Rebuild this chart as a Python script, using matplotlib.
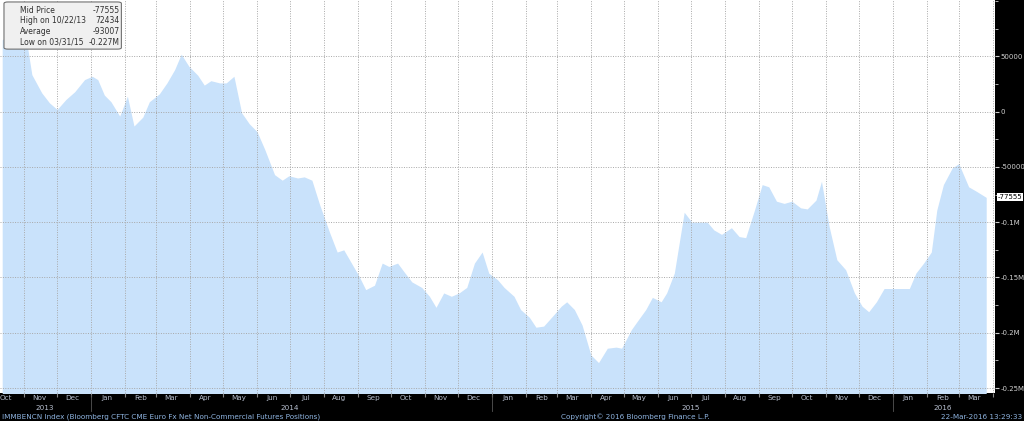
import matplotlib
matplotlib.use("Agg")
import matplotlib.pyplot as plt
import matplotlib.dates as mdates
import pandas as pd
from matplotlib.patches import FancyBboxPatch

dates = ["2013-10-12","2013-10-22","2013-11-03","2013-11-08","2013-11-17","2013-11-24","2013-12-01","2013-12-09",
"2013-12-17","2013-12-26","2014-01-02","2014-01-07","2014-01-13","2014-01-19","2014-01-27","2014-02-03","2014-02-09",
"2014-02-17","2014-02-23","2014-03-04","2014-03-11","2014-03-18","2014-03-24","2014-03-31","2014-04-08","2014-04-14",
"2014-04-20","2014-04-28","2014-05-04","2014-05-11","2014-05-18","2014-05-25","2014-06-01","2014-06-08","2014-06-17",
"2014-06-24","2014-06-30","2014-07-08","2014-07-14","2014-07-21","2014-07-28","2014-08-06","2014-08-13","2014-08-19",
"2014-08-26","2014-09-02","2014-09-08","2014-09-16","2014-09-23","2014-09-29","2014-10-07","2014-10-13","2014-10-20",
"2014-10-29","2014-11-05","2014-11-11","2014-11-18","2014-11-25","2014-12-02","2014-12-09","2014-12-16","2014-12-23",
"2014-12-29","2015-01-06","2015-01-12","2015-01-21","2015-01-27","2015-02-04","2015-02-10","2015-02-17","2015-02-26",
"2015-03-05","2015-03-10","2015-03-17","2015-03-24","2015-04-01","2015-04-08","2015-04-16","2015-04-24","2015-04-29",
"2015-05-08","2015-05-13","2015-05-21","2015-05-27","2015-06-04","2015-06-09","2015-06-16","2015-06-25","2015-07-02",
"2015-07-08","2015-07-16","2015-07-22","2015-07-29","2015-08-07","2015-08-14","2015-08-20","2015-08-28","2015-09-04",
"2015-09-10","2015-09-17","2015-09-24","2015-10-01","2015-10-09","2015-10-15","2015-10-23","2015-10-28","2015-11-04",
"2015-11-11","2015-11-19","2015-11-27","2015-12-04","2015-12-10","2015-12-17","2015-12-24","2015-12-31","2016-01-08",
"2016-01-16","2016-01-22","2016-01-29","2016-02-05","2016-02-10","2016-02-16","2016-02-24","2016-03-01","2016-03-10",
"2016-03-17","2016-03-26"]
values_k = [65,72.4,65,33.5,17,8,2,11,18,29,32,29,15,9,-4,14,-13,-5,9,16,26,38,52,41,33,24,28,26,26,32,-1,-11,-18,-34,-57,
-62,-58,-60,-59,-62,-84,-109,-127,-125,-137,-149,-161,-157,-137,-140,-137,-145,-154,-159,-167,-177,-164,-167,-164,-159,
-137,-127,-146,-152,-159,-167,-179,-186,-195,-194,-184,-176,-172,-179,-193,-220,-227,-214,-213,-214,-197,-190,-179,-168,
-172,-164,-146,-91,-100,-100,-100,-107,-111,-105,-113,-114,-89,-66,-68,-81,-83,-81,-87,-88,-80,-63,-104,-134,-143,-164,
-176,-181,-172,-160,-160,-160,-160,-146,-137,-127,-89,-66,-51,-47,-68,-72,-77.555]
last_value = -77555
yticks = [50000, 0, -50000, -100000, -150000, -200000, -250000]
ytick_labels = ["50000", "0", "-50000", "-0.1M", "-0.15M", "-0.2M", "-0.25M"]

x = pd.to_datetime(dates)
y = [v * 1000 for v in values_k]

fig = plt.figure(figsize=(10.24, 4.21), dpi=100, facecolor="black")
ax = fig.add_axes([0, 28/421, 995/1024, 393/421])
ax.set_facecolor("white")
ax.fill_between(x, y, -260000, color="#c9e2fb", lw=0)
ax.set_ylim(-254500, 101000)
ax.set_xlim(pd.Timestamp("2013-10-10"), pd.Timestamp("2016-04-03"))

ax.yaxis.tick_right()
ax.set_yticks(yticks)
ax.set_yticklabels(ytick_labels)
ax.tick_params(axis="y", colors="#d0d0d0", labelsize=5, length=3, pad=1)
ax.yaxis.set_minor_locator(matplotlib.ticker.MultipleLocator(25000))
ax.tick_params(axis="y", which="minor", length=2, color="#d0d0d0")

ax.xaxis.set_major_locator(mdates.MonthLocator())
ax.xaxis.set_major_formatter(matplotlib.ticker.NullFormatter())
ax.xaxis.set_minor_locator(mdates.MonthLocator(bymonthday=15))
ax.xaxis.set_minor_formatter(mdates.DateFormatter("%b"))
ax.tick_params(axis="x", which="major", length=3, color="#888888")
ax.tick_params(axis="x", which="minor", length=0, labelsize=5.2, colors="#b8c0d0", pad=1.5)
ax.grid(True, which="major", color="#a8a8a8", linestyle=(0, (1, 1.5)), lw=0.7)
for s in ax.spines.values():
    s.set_visible(False)

for yr, d in [("2013", "2013-11-20"), ("2014", "2014-07-01"), ("2015", "2015-07-01"), ("2016", "2016-02-15")]:
    ax.annotate(yr, (mdates.date2num(pd.Timestamp(d)), 0), xycoords=("data", "axes fraction"),
                xytext=(0, -8.5), textcoords="offset points", ha="center", va="top", fontsize=5.2, color="#b8c0d0")
for d in ["2014-01-01", "2015-01-01", "2016-01-01"]:
    xd = mdates.date2num(pd.Timestamp(d))
    ax.plot([xd, xd], [-0.005, -0.045], transform=ax.get_xaxis_transform(), color="#555555", lw=0.6, clip_on=False)

ax.annotate(f"{last_value}", (1.0, last_value), xycoords=("axes fraction", "data"), xytext=(2, 0),
            textcoords="offset points", va="center", ha="left", fontsize=5, color="black",
            bbox=dict(boxstyle="square,pad=0.15", fc="white", ec="none"))

ax.add_patch(FancyBboxPatch((0.004, 0.875), 0.118, 0.12, transform=ax.transAxes,
                            boxstyle="round,pad=0,rounding_size=0.004", fc="#f0f0f0", ec="#707070",
                            lw=0.8, zorder=2.5))
ax.text(0.02, 0.986, "Mid Price\nHigh on 10/22/13\nAverage\nLow on 03/31/15", transform=ax.transAxes,
        va="top", ha="left", fontsize=5.5, color="#303030", linespacing=1.25, zorder=3)
ax.text(0.12, 0.986, "-77555\n72434\n-93007\n-0.227M", transform=ax.transAxes, va="top", ha="right",
        fontsize=5.5, color="#303030", linespacing=1.25, zorder=3)

fig.text(0.002, 0.003, "IMMBENCN Index (Bloomberg CFTC CME Euro Fx Net Non-Commercial Futures Positions)",
         fontsize=5.2, color="#8fb4e0", va="bottom")
fig.text(0.548, 0.003, "Copyright\u00a9 2016 Bloomberg Finance L.P.", fontsize=5.2, color="#8fb4e0", va="bottom")
fig.text(0.998, 0.003, "22-Mar-2016 13:29:33", fontsize=5.2, color="#8fb4e0", va="bottom", ha="right")

fig.savefig("out.png", dpi=100, facecolor="black")
